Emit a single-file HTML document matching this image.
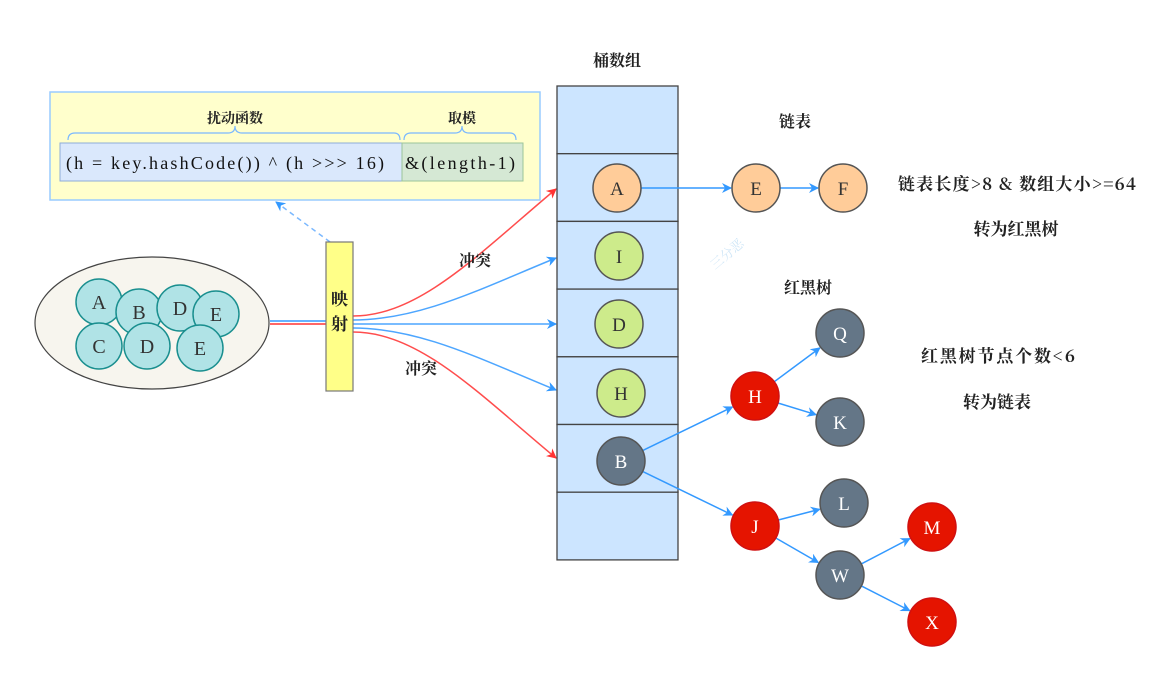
<!DOCTYPE html>
<html><head><meta charset="utf-8"><style>
html,body{margin:0;padding:0;background:#fff;width:1153px;height:698px;overflow:hidden}
svg text{font-family:"Liberation Serif","Noto Serif CJK SC","Noto Sans CJK SC",serif}
.cn{font-family:"Noto Serif CJK SC","Noto Sans CJK SC",serif;font-weight:bold;fill:#222}
</style></head><body>
<svg id="s" width="1153" height="698" viewBox="0 0 1153 698" xmlns="http://www.w3.org/2000/svg">
<defs>
<marker id="ab" markerWidth="10" markerHeight="10" refX="9" refY="5" orient="auto" markerUnits="userSpaceOnUse"><path d="M0,0 L10,5 L0,10 L3,5 z" fill="#3399ff"/></marker>
<marker id="ar" markerWidth="10" markerHeight="10" refX="9" refY="5" orient="auto" markerUnits="userSpaceOnUse"><path d="M0,0 L10,5 L0,10 L3,5 z" fill="#ff3333"/></marker>
</defs>
<g>
<rect x="50" y="92" width="490" height="108" fill="#ffffcc" stroke="#99ccff" stroke-width="1.5"/>
<text class="cn" x="235" y="123" font-size="14" text-anchor="middle">扰动函数</text>
<text class="cn" x="462" y="123" font-size="14" text-anchor="middle">取模</text>
<path d="M68,140 Q68,133 75,133 L228,133 Q235,133 235,126 Q235,133 242,133 L394,133 Q400,133 400,140" fill="none" stroke="#7ab8ff" stroke-width="1.2"/>
<path d="M404,140 Q404,133 411,133 L455,133 Q462,133 462,126 Q462,133 469,133 L510,133 Q516,133 516,140" fill="none" stroke="#7ab8ff" stroke-width="1.2"/>
<rect x="60" y="143" width="342" height="38" fill="#dae8fc" stroke="#8eacd8" stroke-width="1"/>
<rect x="402" y="143" width="121" height="38" fill="#d5e8d4" stroke="#9bc59a" stroke-width="1"/>
<text x="66" y="169" font-size="18" fill="#111" textLength="318" lengthAdjust="spacing">(h = key.hashCode()) ^ (h &gt;&gt;&gt; 16)</text>
<text x="405" y="169" font-size="18" fill="#111" textLength="110" lengthAdjust="spacing">&amp;(length-1)</text>
</g>
<line x1="330" y1="242" x2="276" y2="202" stroke="#7ab8ff" stroke-width="1.5" stroke-dasharray="5,4" marker-end="url(#ab)"/>
<g>
<ellipse cx="152" cy="323" rx="117" ry="66" fill="#f7f5ee" stroke="#444" stroke-width="1.2"/>
<g id="keys"></g>
</g>
<g id="links"></g>
<g>
<rect x="326" y="242" width="27" height="149" fill="#ffff88" stroke="#777" stroke-width="1.2"/>
<text class="cn" x="339.5" y="305" font-size="17" text-anchor="middle">映</text>
<text class="cn" x="339.5" y="330" font-size="17" text-anchor="middle">射</text>
</g>
<text class="cn" x="475" y="266" font-size="16" text-anchor="middle">冲突</text>
<text class="cn" x="421" y="374" font-size="16" text-anchor="middle">冲突</text>
<text class="cn" x="617" y="66" font-size="16" text-anchor="middle">桶数组</text>
<g id="buckets"></g>
<g id="edges"></g>
<g id="nodes"></g>
<text class="cn" x="795" y="127" font-size="16" text-anchor="middle">链表</text>
<text class="cn" x="898" y="190" font-size="17" textLength="238" lengthAdjust="spacing">链表长度&gt;8 &amp; 数组大小&gt;=64</text>
<text class="cn" x="1016" y="235" font-size="17" text-anchor="middle">转为红黑树</text>
<text class="cn" x="808" y="293" font-size="16" text-anchor="middle">红黑树</text>
<text class="cn" x="921" y="362" font-size="17" textLength="154" lengthAdjust="spacing">红黑树节点个数&lt;6</text>
<text class="cn" x="997" y="408" font-size="17" text-anchor="middle">转为链表</text>
<text x="715" y="270" font-size="13" fill="#cfe6f7" transform="rotate(-40 715 270)">三分恶</text>
</svg>
<script>
const NS='http://www.w3.org/2000/svg';
const keyLabels=['A','B','D','E','C','D','E'];
const keyX=[99,139,180,216,99,147,200];
const keyY=[302,312,308,314,346,346,348];
const bucketRows=[0,1,2,3,4,5,6];
const bucketTop=86,bucketH=67.7,bucketX=557,bucketW=121;
const nodeLabels=['A','I','D','H','B','E','F','H','Q','K','J','L','W','M','X'];
const nodeX=[617,619,619,621,621,756,843,755,840,840,755,844,840,932,932];
const nodeY=[188,256,324,393,461,188,188,396,333,422,526,503,575,527,622];
const nodeKind=['o','g','g','g','k','o','o','r','k','k','r','k','k','r','r'];
const edgeFrom=[0,5,4,4,7,7,10,10,12,12];
const edgeTo=[5,6,7,10,8,9,11,12,13,14];
const linkColor=['r','b','b','b','r'];
const linkTargetY=[189,258,324,390,458];
const fills={o:'#ffcc99',g:'#cdeb8b',k:'#647687',r:'#e51400'};
const textFill={o:'#333',g:'#333',k:'#fff',r:'#fff'};
function mk(t,a,p){const e=document.createElementNS(NS,t);for(const k in a)e.setAttribute(k,a[k]);p.appendChild(e);return e;}
const gk=document.getElementById('keys');
keyLabels.forEach((l,i)=>{
 const c=mk('circle',{cx:keyX[i],cy:keyY[i],r:23,fill:'#b0e3e6',stroke:'#1a8f8f','stroke-width':1.5},gk);
 
 
 const t=mk('text',{x:keyX[i],y:keyY[i]+7,'font-size':20,'text-anchor':'middle',fill:'#333'},gk);t.textContent=l;
});
const gl=document.getElementById('links');
mk('line',{x1:270,y1:321,x2:326,y2:321,stroke:'#3399ff','stroke-width':1.4},gl);
mk('line',{x1:270,y1:324,x2:326,y2:324,stroke:'#ff3333','stroke-width':1.4},gl);
linkColor.forEach((c,i)=>{
 const ty=linkTargetY[i],sy=316+i*4;
 const p=mk('path',{d:`M353,${sy} C420,${sy} 480,${(sy+ty)/2} 556,${ty}`,fill:'none',stroke:c=='r'?'#ff4d4d':'#4da6ff','stroke-width':1.5,'marker-end':c=='r'?'url(#ar)':'url(#ab)'},gl);
 
 
});
const gb=document.getElementById('buckets');
bucketRows.forEach(i=>{
 const r=mk('rect',{x:bucketX,y:bucketTop+i*bucketH,width:bucketW,height:bucketH,fill:'#cce5ff',stroke:'#444','stroke-width':1.3},gb);
 
 
});
const ge=document.getElementById('edges');
edgeFrom.forEach((f,i)=>{
 const t=edgeTo[i];const dx=nodeX[t]-nodeX[f],dy=nodeY[t]-nodeY[f],d=Math.hypot(dx,dy);
 const l=mk('line',{x1:nodeX[f]+dx/d*24,y1:nodeY[f]+dy/d*24,x2:nodeX[t]-dx/d*25,y2:nodeY[t]-dy/d*25,stroke:'#3399ff','stroke-width':1.5,'marker-end':'url(#ab)'},ge);
 
 
});
const gn=document.getElementById('nodes');
nodeLabels.forEach((l,i)=>{
 const k=nodeKind[i];
 const c=mk('circle',{cx:nodeX[i],cy:nodeY[i],r:24,fill:fills[k],stroke:k=='r'?'#d01010':'#555','stroke-width':1.5},gn);
 
 
 const t=mk('text',{x:nodeX[i],y:nodeY[i]+7,'font-size':19,'text-anchor':'middle',fill:textFill[k]},gn);t.textContent=l;
});
</script>
</body></html>
